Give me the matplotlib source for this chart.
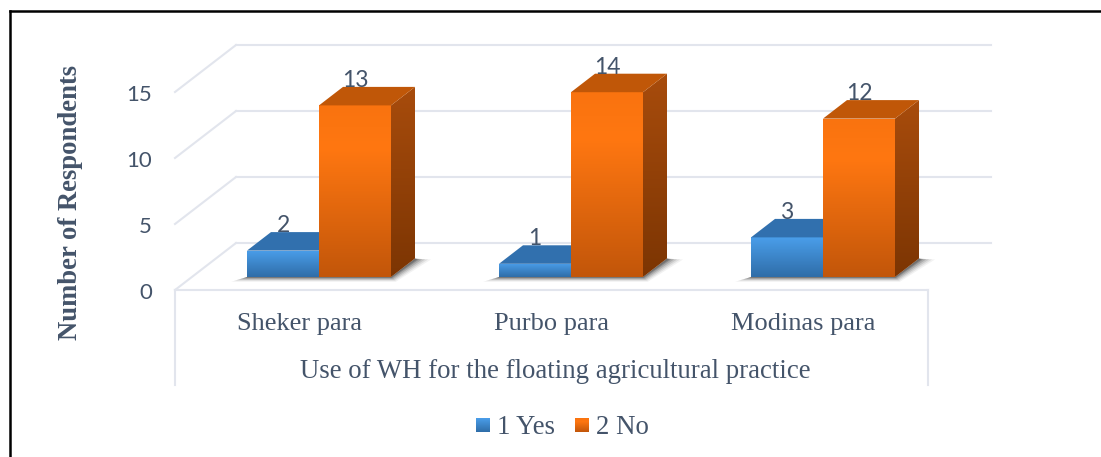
import numpy as np
import matplotlib
matplotlib.use("Agg")
import matplotlib.pyplot as plt
from matplotlib.patches import Polygon
from matplotlib.colors import LinearSegmentedColormap

categories = ["Sheker para", "Purbo para", "Modinas para"]
series_names = ["1 Yes", "2 No"]
yes_values = [2, 1, 3]
no_values = [13, 14, 12]
y_ticks = [0, 5, 10, 15]
x_title = "Use of WH for the floating agricultural practice"
y_title = "Number of Respondents"

W, H = 1101, 457
PX_X = 252.0      # pixels per category
PX_Y = 13.2       # pixels per unit
X0 = 319.0        # pixel of category 0
Y0 = 277.0        # pixel of value 0 at bar front

fig = plt.figure(figsize=(W / 100, H / 100), dpi=100, facecolor="white")
ax = fig.add_axes([0, 0, 1, 1])


def dx(p):
    return p / PX_X


def dy(p):
    return p / PX_Y


def px(p):
    return dx(p - X0)


def py(p):
    return dy(Y0 - p)


SERIF = ["Liberation Serif", "DejaVu Serif"]
SANS = ["Lato", "DejaVu Sans"]
TXT = "#44546A"
GRID = "#E2E5ED"

# chart frame
ax.plot([px(10.5), px(10.5)], [py(457), py(11.3)], color="k", lw=1.8, solid_capstyle="projecting", zorder=1)
ax.plot([px(10.5), px(1101)], [py(11.3)] * 2, color="k", lw=1.8, solid_capstyle="projecting", zorder=1)

# wall / floor geometry
floor_y = py(290)
left = px(175)
back_left = px(236)
back_right = px(991)
front_right = px(928)
depth_y = dy(47)
for t in y_ticks:
    y = floor_y + t
    ax.plot([left, back_left], [y, y + depth_y], color=GRID, lw=1.5, zorder=2)
    ax.plot([back_left, back_right], [y + depth_y] * 2, color=GRID, lw=1.5, zorder=2)
    ax.text(px(152), y - dy(3), str(t), ha="right", va="center", fontsize=16, color=TXT, family=SANS, zorder=6)
ax.plot([left, front_right], [floor_y, floor_y], color=GRID, lw=1.5, zorder=2)
ax.plot([left, left], [floor_y, py(385)], color=GRID, lw=1.5, zorder=2)
ax.plot([front_right, front_right], [floor_y, py(385)], color=GRID, lw=1.5, zorder=2)

cm_blue = LinearSegmentedColormap.from_list("b", ["#4A9EEA", "#2F6DA8"])
cm_orange = LinearSegmentedColormap.from_list("o", [(0, "#F9730F"), (0.25, "#FF7711"), (1, "#C2560A")])
cm_oside = LinearSegmentedColormap.from_list("os", ["#A84C0C", "#7C3503"])
cm_bside = LinearSegmentedColormap.from_list("bs", ["#2C6AA6", "#234F7C"])

grad = np.linspace(0, 1, 128).reshape(-1, 1)
BW = 72 / PX_X
DPX, DPY = dx(24), dy(18.5)


def shaded(poly_pts, cmap, z):
    pts = np.array(poly_pts)
    ext = [pts[:, 0].min(), pts[:, 0].max(), pts[:, 1].min(), pts[:, 1].max()]
    im = ax.imshow(grad, extent=ext, cmap=cmap, aspect="auto", origin="upper", zorder=z, interpolation="bilinear")
    im.set_clip_path(Polygon(pts, closed=True, transform=ax.transData))


def shadow(x0, x1, z):
    for grow, a in [(16, .06), (13, .09), (10, .13), (7, .18), (4, .24), (2, .28)]:
        g = dx(grow)
        h = dy(grow * 0.3)
        ax.add_patch(Polygon([(x0 - g, -h), (x1 + g * .3, -h), (x1 + DPX + g, DPY - dy(1)),
                              (x1 + DPX, DPY), (x1, 0), (x0, 0)],
                             closed=True, fc="#2A2A2A", ec="none", alpha=a, zorder=z))


def bar3d(x0, v, front_cmap, side_cmap, top_color, z, label, draw_side=True):
    x1 = x0 + BW
    shaded([(x0, 0), (x1, 0), (x1, v), (x0, v)], front_cmap, z + .2)
    ax.add_patch(Polygon([(x0, v), (x1, v), (x1 + DPX, v + DPY), (x0 + DPX, v + DPY)], closed=True,
                         fc=top_color, ec="none", zorder=z + .2))
    if draw_side:
        shaded([(x1, 0), (x1 + DPX, DPY), (x1 + DPX, v + DPY), (x1, v)], side_cmap, z + .1)
    ax.text(x0 + BW / 2, v + dy(25), label, ha="center", va="center", fontsize=16.5,
            color=TXT, family=SANS, zorder=z + .4)


for i, cat in enumerate(categories):
    shadow(i - BW, i + BW, 2.5)
    bar3d(i - BW, yes_values[i], cm_blue, cm_bside, "#3170AE", 3 + i, str(yes_values[i]), draw_side=False)
    bar3d(i, no_values[i], cm_orange, cm_oside, "#C05708", 3.6 + i, str(no_values[i]))
    ax.text(i - dx(19.5), py(324), cat, ha="center", va="center", fontsize=19, color=TXT, family=SERIF, zorder=8)

ax.text(px(555), py(371), x_title, ha="center", va="center", fontsize=19.3, color=TXT, family=SERIF)
ax.text(px(71), py(203), y_title, rotation=90, ha="center", va="center", fontsize=19.2,
        fontweight="bold", color=TXT, family=SERIF)

# legend
for xp, cm, tx, name in [(476, cm_blue, 497, series_names[0]), (575, cm_orange, 596, series_names[1])]:
    ax.imshow(grad, extent=[px(xp), px(xp + 14), py(432), py(418)], cmap=cm,
              aspect="auto", origin="upper", zorder=5)
    ax.text(px(tx), py(427), name, ha="left", va="center", fontsize=19.3, color=TXT, family=SERIF)

ax.set_xlim((0 - X0) / PX_X, (W - X0) / PX_X)
ax.set_ylim((Y0 - H) / PX_Y, Y0 / PX_Y)
ax.axis("off")
fig.savefig("out.png", dpi=100)
